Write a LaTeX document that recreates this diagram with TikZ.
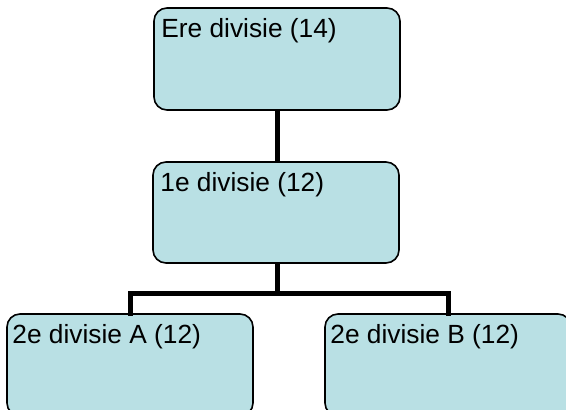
\documentclass[tikz,border=0pt]{standalone}
\usepackage{fontspec}
\setmainfont{Liberation Sans}
\definecolor{boxfill}{RGB}{185,224,228}
\begin{document}
\begin{tikzpicture}[x=1pt,y=1pt,
  box/.style={draw=black,line width=1.6pt,fill=boxfill,rounded corners=13pt,
    minimum width=246pt,minimum height=102pt,inner sep=0pt},
  lbl/.style={anchor=base west,inner sep=0pt,font=\fontsize{26.3}{29}\selectfont},
  conn/.style={draw=black,line width=5pt}]
\useasboundingbox (0,0) rectangle (566,-410);
\clip (0,0) rectangle (566,-410);
\fill[white] (0,0) rectangle (566,-410);
\node[box] (top) at (277,-59) {};
\node[box,minimum height=101pt] (mid) at (276,-212.5) {};
\node[box] (bl) at (130,-365) {};
\node[box] (br) at (448,-365) {};
\coordinate (j) at (277,-293);
\draw[conn] (top.south) -- (top.south |- mid.north);
\draw[conn] (mid.south -| j) -- (j);
\draw[conn,line cap=rect] (j) -| (bl.north);
\draw[conn,line cap=rect] (j) -| (br.north);
\node[lbl] at ([xshift=8pt,yshift=-30pt]top.north west) {Ere divisie (14)};
\node[lbl] at ([xshift=8pt,yshift=-30pt]mid.north west) {1e divisie (12)};
\node[lbl] at ([xshift=6pt,yshift=-30pt]bl.north west) {2e divisie A (12)};
\node[lbl] at ([xshift=6pt,yshift=-30pt]br.north west) {2e divisie B (12)};
\end{tikzpicture}
\end{document}
